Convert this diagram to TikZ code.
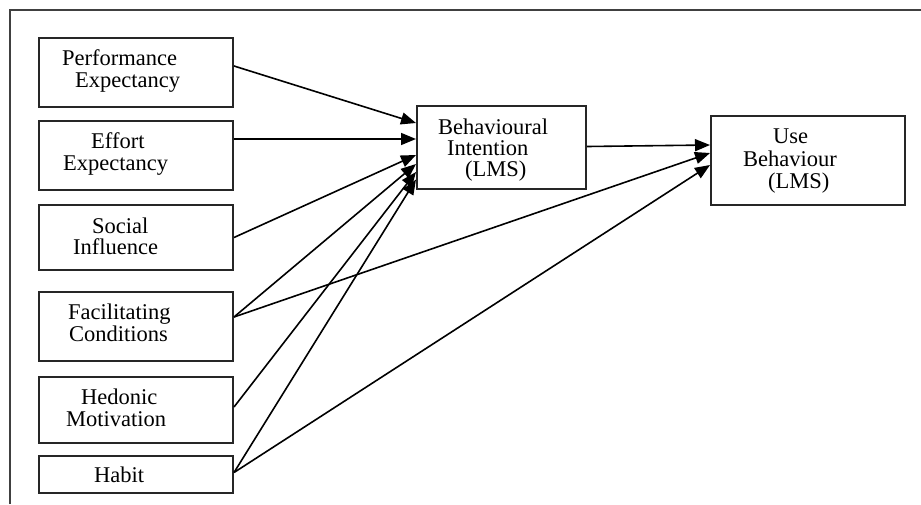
\documentclass[tikz,border=0pt]{standalone}
\usepackage{fontspec}
\setmainfont{Liberation Serif}
\usetikzlibrary{arrows.meta}
\begin{document}
\begin{tikzpicture}[x=1pt,y=-1pt,
  box/.style={draw=black!85,line width=2pt,minimum width=194pt,inner sep=0pt,rectangle},
  lbl/.style={anchor=base west,inner sep=0pt,font=\fontsize{22.5}{23}\selectfont},
  arr/.style={line width=1.6pt,-{Triangle[length=15pt,width=12pt]}},
  frame/.style={draw=black!75,line width=2pt}]
\useasboundingbox (0,0) rectangle (921,504);
\draw[frame] (10,504) -- (10,10) -- (921,10);
% left column boxes
\node[box,minimum height=69pt] (pe) at (136,72.5) {};
\node[box,minimum height=69pt] (ee) at (136,155.5) {};
\node[box,minimum height=65pt] (si) at (136,237.5) {};
\node[box,minimum height=69pt] (fc) at (136,326.5) {};
\node[box,minimum height=66pt] (hm) at (136,410) {};
\node[box,minimum height=37pt] (hb) at (136,474.5) {};
% target boxes
\node[box,minimum width=169pt,minimum height=83pt] (bi) at (501.5,147.5) {};
\node[box,minimum width=194pt,minimum height=89pt] (ub) at (808,160.5) {};
% labels
\node[lbl] (pe1) at (62,65) {Performance};
\node[lbl] (pe2) at (75,87) {Expectancy};
\node[lbl] (ee1) at (91,148) {Effort};
\node[lbl] (ee2) at (63,170) {Expectancy};
\node[lbl] (si1) at (92,233) {Social};
\node[lbl] (si2) at (73,254) {Influence};
\node[lbl] (fc1) at (68,319) {Facilitating};
\node[lbl] (fc2) at (69,341) {Conditions};
\node[lbl] (hm1) at (81,404) {Hedonic};
\node[lbl] (hm2) at (66,426) {Motivation};
\node[lbl] (hb1) at (94,482) {Habit};
\node[lbl] (bi1) at (438,134) {Behavioural};
\node[lbl] (bi2) at (447,155) {Intention};
\node[lbl] (bi3) at (465,176) {(LMS)};
\node[lbl] (ub1) at (773,143) {Use};
\node[lbl] (ub2) at (743,166) {Behaviour};
\node[lbl] (ub3) at (768,188) {(LMS)};
% connectors to BI
\draw[arr] ([yshift=6.5pt]pe.east) -- ([yshift=24.5pt]bi.west);
\draw[arr] ([yshift=16.5pt]ee.east) -- ([yshift=8.5pt]bi.west);
\draw[arr] (si.east) -- ([yshift=-7.5pt]bi.west);
\draw[arr] ([yshift=9.5pt]fc.east) -- ([yshift=-16.5pt]bi.west);
\draw[arr] ([yshift=3pt]hm.east) -- ([yshift=-24.5pt]bi.west);
\draw[arr] ([yshift=2pt]hb.east) -- ([yshift=-32pt]bi.west);
% connectors to UB
\draw[arr] ([yshift=1pt]bi.east) -- ([yshift=15.5pt]ub.west);
\draw[arr] ([yshift=9.5pt]fc.east) -- ([yshift=7.5pt]ub.west);
\draw[arr] ([yshift=2pt]hb.east) -- ([yshift=-4.5pt]ub.west);
\end{tikzpicture}
\end{document}
